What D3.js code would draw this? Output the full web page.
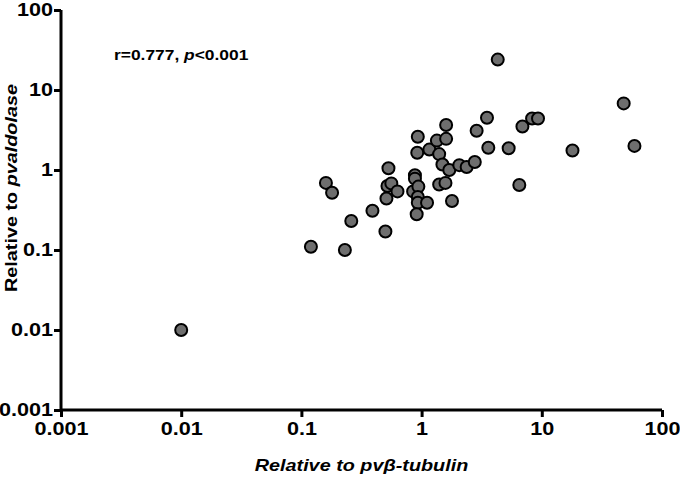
<!DOCTYPE html>
<html>
<head>
<meta charset="utf-8">
<title>pvaldolase vs pvβ-tubulin</title>
<script src="https://cdn.jsdelivr.net/npm/d3@7"></script>
<style>
body { margin: 0; background: #fff; }
text { font-family: 'Liberation Sans', Arial, sans-serif; font-weight: bold; }
.tick text { font-size: 18px; }
</style>
</head>
<body>
<svg id="chart" width="680" height="480"></svg>
<script>

// relative expression values
var betaTubulin = [0.01, 0.12, 0.16, 0.18, 0.23, 0.26, 0.39, 0.50, 0.53, 0.52,
	0.56, 0.63, 0.51, 0.93, 0.92, 0.88, 0.88, 0.85, 0.94, 0.93,
	0.93, 1.11, 0.91, 1.79, 1.40, 1.58, 1.16, 1.34, 1.60, 1.60,
	1.40, 1.49, 1.70, 2.06, 2.37, 2.77, 2.87, 3.59, 3.5, 4.3,
	5.3, 6.5, 6.9, 8.3, 9.3, 18, 48, 59];
var aldolase = [0.01, 0.11, 0.69, 0.52, 0.10, 0.23, 0.31, 0.17, 1.05, 0.63,
	0.68, 0.54, 0.44, 2.6, 1.64, 0.86, 0.78, 0.54, 0.62, 0.46,
	0.39, 0.39, 0.28, 0.41, 0.66, 0.69, 1.8, 2.33, 2.45, 3.65,
	1.58, 1.17, 1.0, 1.15, 1.09, 1.26, 3.1, 1.9, 4.5, 24,
	1.87, 0.65, 3.5, 4.4, 4.4, 1.75, 6.8, 2.0];

var tickValues = [0.001, 0.01, 0.1, 1, 10, 100];
var tickLabels = ['0.001', '0.01', '0.1', '1', '10', '100'];

var svg = d3.select('#chart');

// text in the source is stretched sideways a little
var stretch = 1.2;
var mLeft = 61, mRight = 662, mTop = 10, mBottom = 410;

var x = d3.scaleLog().domain([0.001, 100]).range([mLeft, mRight]);
var y = d3.scaleLog().domain([0.001, 100]).range([mBottom, mTop]);

function fmt(d) { return tickLabels[tickValues.indexOf(d)]; }

var xAxis = svg.append('g')
	.attr('transform', 'translate(0,' + mBottom + ')')
	.call(d3.axisBottom(x).tickValues(tickValues).tickFormat(fmt).tickSize(7).tickPadding(5));

var yAxis = svg.append('g')
	.attr('transform', 'translate(' + mLeft + ',0)')
	.call(d3.axisLeft(y).tickValues(tickValues).tickFormat(fmt).tickSize(7).tickPadding(1));

svg.selectAll('.domain').attr('stroke', '#000').attr('stroke-width', 3);
svg.selectAll('.tick line').attr('stroke', '#000').attr('stroke-width', 3);
svg.selectAll('.tick text').attr('fill', '#000');
xAxis.selectAll('.tick text').attr('transform', 'scale(' + stretch + ',1)');
yAxis.selectAll('.tick text')
	.attr('x', -8 / stretch)
	.attr('transform', 'scale(' + stretch + ',1)');
xAxis.select('.domain').attr('d', 'M' + mLeft + ',0H' + mRight);
yAxis.select('.domain').attr('d', 'M0,' + mBottom + 'V' + mTop);

var points = betaTubulin.map(function(d, i) { return [d, aldolase[i]]; });

svg.selectAll('.dot')
	.data(points)
	.enter()
	.append('circle')
	.attr('class', 'dot')
	.attr('cx', function(d) { return x(d[0]); })
	.attr('cy', function(d) { return y(d[1]); })
	.attr('r', 6)
	.attr('fill', '#6e6e6e')
	.attr('stroke', '#000')
	.attr('stroke-width', 2);

var stat = svg.append('text')
	.attr('transform', 'translate(114,60) scale(' + stretch + ',1)')
	.attr('font-size', 14.5);
stat.append('tspan').text('r=0.777, ');
stat.append('tspan').attr('font-style', 'italic').text('p');
stat.append('tspan').text('<0.001');

var xl = svg.append('text')
	.attr('transform', 'translate(' + (mLeft + mRight) / 2 + ',471) scale(' + stretch + ',1)')
	.attr('text-anchor', 'middle')
	.attr('font-size', 16.5)
	.attr('font-style', 'italic');
xl.append('tspan').text('Relative to pv');
xl.append('tspan').text('β');
xl.append('tspan').text('-tubulin');

var yl = svg.append('text')
	.attr('transform', 'translate(17,188) rotate(-90) scale(' + stretch + ',1)')
	.attr('text-anchor', 'middle')
	.attr('font-size', 16.5);
yl.append('tspan').text('Relative to ');
yl.append('tspan').attr('font-style', 'italic').text('pvaldolase');

</script>
</body>
</html>
